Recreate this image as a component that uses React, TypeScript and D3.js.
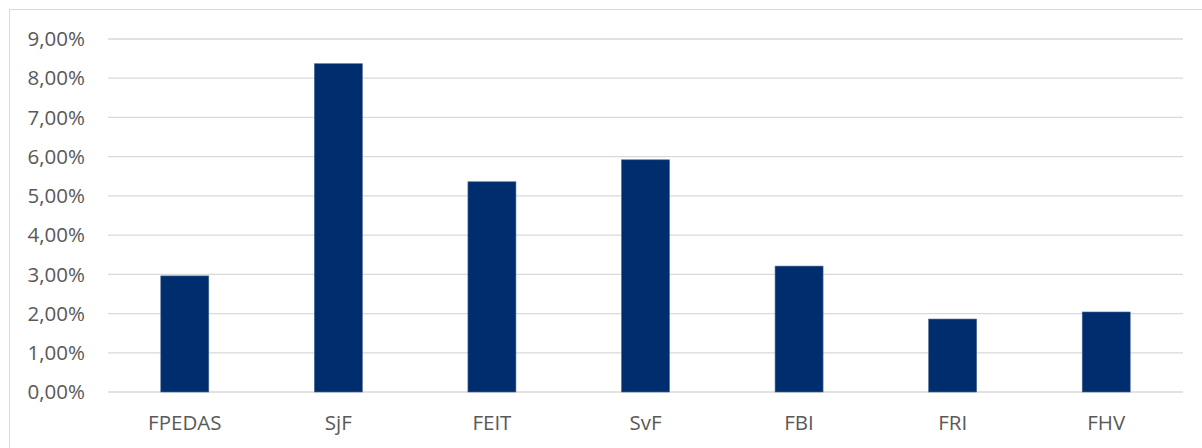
import React from 'react';
import * as d3 from 'd3';

// faculties and their share (fraction)
const categories = ['FPEDAS', 'SjF', 'FEIT', 'SvF', 'FBI', 'FRI', 'FHV'];
const values = [0.0296, 0.0837, 0.0536, 0.0592, 0.0321, 0.0186, 0.0204];
const yTicks = [0, 0.01, 0.02, 0.03, 0.04, 0.05, 0.06, 0.07, 0.08, 0.09];

const W = 1202;
const H = 448;
const plot = { left: 108, right: 1183, top: 39, bottom: 392 };

const fmt = (v: number) => (v * 100).toFixed(2).replace('.', ',') + '%';

const App: React.FC = () => {
  const x = d3
    .scaleBand()
    .domain(categories)
    .range([plot.left, plot.right])
    .paddingInner(0.6875)
    .paddingOuter(0.34375);

  const y = d3.scaleLinear().domain([0, 0.09]).range([plot.bottom, plot.top]);

  const font = '"Open Sans", sans-serif';

  return (
    <svg
      width={W}
      height={H}
      style={{ position: 'absolute', left: 0, top: 0, background: '#fff' }}
    >
      {/* chart frame */}
      <rect x={9.5} y={9.5} width={W} height={H} fill="#fff" stroke="#d9d9d9" strokeWidth={1} />

      {/* gridlines + y labels */}
      {yTicks.map(t => (
        <g key={t}>
          <line
            x1={plot.left}
            x2={plot.right}
            y1={y(t)}
            y2={y(t)}
            stroke="#d9d9d9"
            strokeWidth={1.3}
          />
          <text
            x={85}
            y={y(t)}
            dy="0.35em"
            textAnchor="end"
            fontFamily={font}
            fontSize={20.5}
            fill="#595959"
          >
            {fmt(t)}
          </text>
        </g>
      ))}

      {/* bars */}
      {categories.map((c, i) => (
        <rect
          key={c}
          x={x(c) ?? 0}
          y={y(values[i])}
          width={x.bandwidth()}
          height={y(0) - y(values[i])}
          fill="#002d6e"
          stroke="#4a6894"
          strokeWidth={0.6}
        />
      ))}

      {/* x labels */}
      {categories.map(c => (
        <text
          key={c}
          x={(x(c) ?? 0) + x.bandwidth() / 2}
          y={423}
          dy="0.35em"
          textAnchor="middle"
          fontFamily={font}
          fontSize={20.5}
          fill="#595959"
        >
          {c}
        </text>
      ))}
    </svg>
  );
};

export default App;
